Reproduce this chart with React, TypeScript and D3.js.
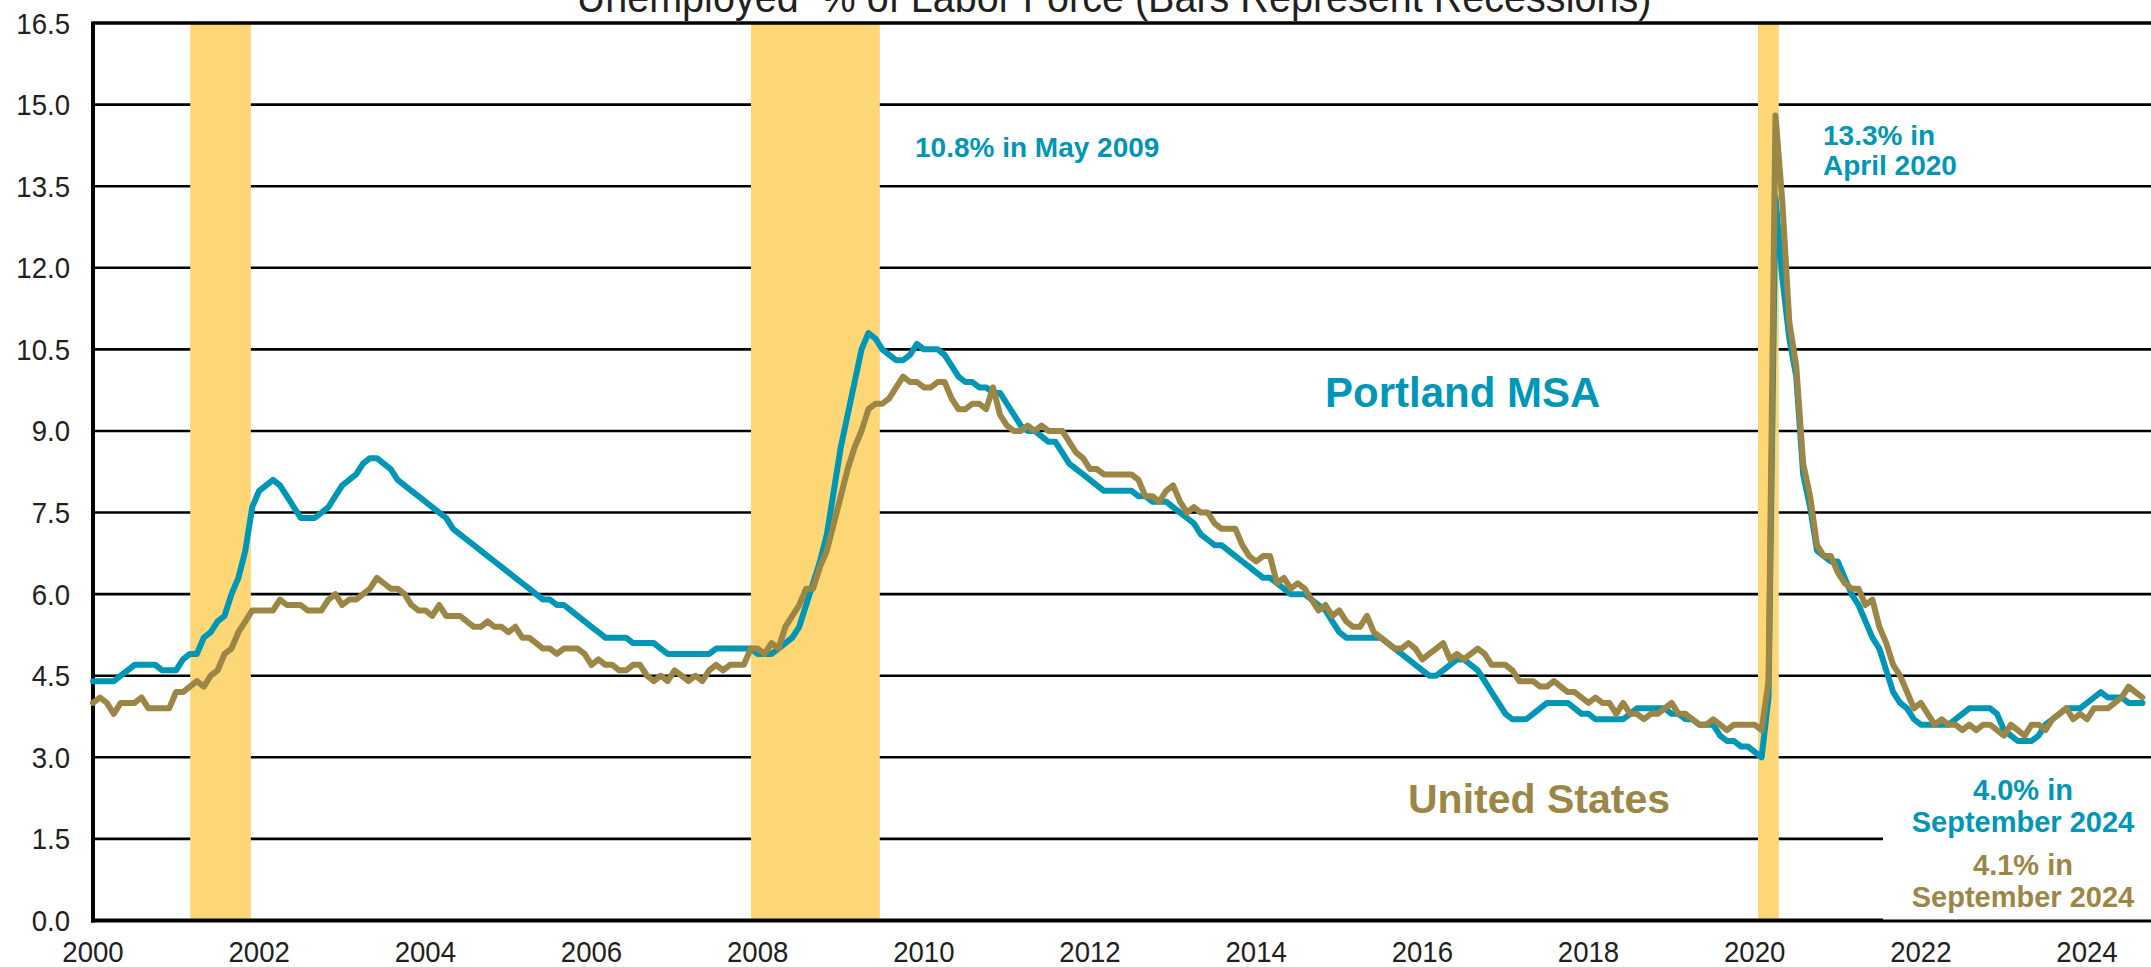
import React from 'react';
import * as d3 from 'd3';

// Monthly unemployment rate (%), Jan 2000 – Sep 2024, seasonally adjusted
const portlandRate: number[] = [
  4.4, 4.4, 4.4, 4.4, 4.5, 4.6, 4.7, 4.7, 4.7, 4.7, 4.6, 4.6,
  4.6, 4.8, 4.9, 4.9, 5.2, 5.3, 5.5, 5.6, 6.0, 6.3, 6.8, 7.6,
  7.9, 8.0, 8.1, 8.0, 7.8, 7.6, 7.4, 7.4, 7.4, 7.5, 7.6, 7.8,
  8.0, 8.1, 8.2, 8.4, 8.5, 8.5, 8.4, 8.3, 8.1, 8.0, 7.9, 7.8,
  7.7, 7.6, 7.5, 7.4, 7.2, 7.1, 7.0, 6.9, 6.8, 6.7, 6.6, 6.5,
  6.4, 6.3, 6.2, 6.1, 6.0, 5.9, 5.9, 5.8, 5.8, 5.7, 5.6, 5.5,
  5.4, 5.3, 5.2, 5.2, 5.2, 5.2, 5.1, 5.1, 5.1, 5.1, 5.0, 4.9,
  4.9, 4.9, 4.9, 4.9, 4.9, 4.9, 5.0, 5.0, 5.0, 5.0, 5.0, 5.0,
  4.9, 4.9, 4.9, 5.0, 5.1, 5.2, 5.4, 5.8, 6.2, 6.6, 7.1, 7.9,
  8.7, 9.3, 9.9, 10.5, 10.8, 10.7, 10.5, 10.4, 10.3, 10.3, 10.4, 10.6,
  10.5, 10.5, 10.5, 10.4, 10.2, 10.0, 9.9, 9.9, 9.8, 9.8, 9.7, 9.7,
  9.5, 9.3, 9.1, 9.0, 9.0, 8.9, 8.8, 8.8, 8.6, 8.4, 8.3, 8.2,
  8.1, 8.0, 7.9, 7.9, 7.9, 7.9, 7.9, 7.8, 7.8, 7.7, 7.7, 7.7,
  7.6, 7.5, 7.4, 7.3, 7.1, 7.0, 6.9, 6.9, 6.8, 6.7, 6.6, 6.5,
  6.4, 6.3, 6.3, 6.2, 6.1, 6.0, 6.0, 6.0, 5.9, 5.8, 5.7, 5.5,
  5.3, 5.2, 5.2, 5.2, 5.2, 5.2, 5.2, 5.1, 5.0, 4.9, 4.8, 4.7,
  4.6, 4.5, 4.5, 4.6, 4.7, 4.8, 4.8, 4.7, 4.6, 4.4, 4.2, 4.0,
  3.8, 3.7, 3.7, 3.7, 3.8, 3.9, 4.0, 4.0, 4.0, 4.0, 3.9, 3.8,
  3.8, 3.7, 3.7, 3.7, 3.7, 3.7, 3.8, 3.9, 3.9, 3.9, 3.9, 3.9,
  3.8, 3.8, 3.7, 3.7, 3.6, 3.6, 3.6, 3.4, 3.3, 3.3, 3.2, 3.2,
  3.1, 3.0, 4.1, 13.3, 11.8, 10.7, 10.0, 8.2, 7.6, 6.8, 6.7, 6.6,
  6.6, 6.3, 6.0, 5.8, 5.5, 5.2, 5.0, 4.6, 4.2, 4.0, 3.9, 3.7,
  3.6, 3.6, 3.6, 3.6, 3.6, 3.7, 3.8, 3.9, 3.9, 3.9, 3.9, 3.8,
  3.5, 3.4, 3.3, 3.3, 3.3, 3.4, 3.6, 3.7, 3.8, 3.9, 3.9, 3.9,
  4.0, 4.1, 4.2, 4.1, 4.1, 4.1, 4.0, 4.0, 4.0,
];

const usRate: number[] = [
  4.0, 4.1, 4.0, 3.8, 4.0, 4.0, 4.0, 4.1, 3.9, 3.9, 3.9, 3.9,
  4.2, 4.2, 4.3, 4.4, 4.3, 4.5, 4.6, 4.9, 5.0, 5.3, 5.5, 5.7,
  5.7, 5.7, 5.7, 5.9, 5.8, 5.8, 5.8, 5.7, 5.7, 5.7, 5.9, 6.0,
  5.8, 5.9, 5.9, 6.0, 6.1, 6.3, 6.2, 6.1, 6.1, 6.0, 5.8, 5.7,
  5.7, 5.6, 5.8, 5.6, 5.6, 5.6, 5.5, 5.4, 5.4, 5.5, 5.4, 5.4,
  5.3, 5.4, 5.2, 5.2, 5.1, 5.0, 5.0, 4.9, 5.0, 5.0, 5.0, 4.9,
  4.7, 4.8, 4.7, 4.7, 4.6, 4.6, 4.7, 4.7, 4.5, 4.4, 4.5, 4.4,
  4.6, 4.5, 4.4, 4.5, 4.4, 4.6, 4.7, 4.6, 4.7, 4.7, 4.7, 5.0,
  5.0, 4.9, 5.1, 5.0, 5.4, 5.6, 5.8, 6.1, 6.1, 6.5, 6.8, 7.3,
  7.8, 8.3, 8.7, 9.0, 9.4, 9.5, 9.5, 9.6, 9.8, 10.0, 9.9, 9.9,
  9.8, 9.8, 9.9, 9.9, 9.6, 9.4, 9.4, 9.5, 9.5, 9.4, 9.8, 9.3,
  9.1, 9.0, 9.0, 9.1, 9.0, 9.1, 9.0, 9.0, 9.0, 8.8, 8.6, 8.5,
  8.3, 8.3, 8.2, 8.2, 8.2, 8.2, 8.2, 8.1, 7.8, 7.8, 7.7, 7.9,
  8.0, 7.7, 7.5, 7.6, 7.5, 7.5, 7.3, 7.2, 7.2, 7.2, 6.9, 6.7,
  6.6, 6.7, 6.7, 6.2, 6.3, 6.1, 6.2, 6.1, 5.9, 5.7, 5.8, 5.6,
  5.7, 5.5, 5.4, 5.4, 5.6, 5.3, 5.2, 5.1, 5.0, 5.0, 5.1, 5.0,
  4.8, 4.9, 5.0, 5.1, 4.8, 4.9, 4.8, 4.9, 5.0, 4.9, 4.7, 4.7,
  4.7, 4.6, 4.4, 4.4, 4.4, 4.3, 4.3, 4.4, 4.3, 4.2, 4.2, 4.1,
  4.0, 4.1, 4.0, 4.0, 3.8, 4.0, 3.8, 3.8, 3.7, 3.8, 3.8, 3.9,
  4.0, 3.8, 3.8, 3.7, 3.6, 3.6, 3.7, 3.6, 3.5, 3.6, 3.6, 3.6,
  3.6, 3.5, 4.4, 14.8, 13.2, 11.0, 10.2, 8.4, 7.8, 6.9, 6.7, 6.7,
  6.4, 6.2, 6.1, 6.1, 5.8, 5.9, 5.4, 5.1, 4.7, 4.5, 4.2, 3.9,
  4.0, 3.8, 3.6, 3.7, 3.6, 3.6, 3.5, 3.6, 3.5, 3.6, 3.6, 3.5,
  3.4, 3.6, 3.5, 3.4, 3.6, 3.6, 3.5, 3.7, 3.8, 3.9, 3.7, 3.8,
  3.7, 3.9, 3.9, 3.9, 4.0, 4.1, 4.3, 4.2, 4.1,
];

// Recession periods (decimal years)
const recessionStarts = [2001.17, 2007.92, 2020.04];
const recessionEnds = [2001.9, 2009.47, 2020.29];

const yTicks = [0, 1.5, 3.0, 4.5, 6.0, 7.5, 9.0, 10.5, 12.0, 13.5, 15.0, 16.5];
const xTicks = [2000, 2002, 2004, 2006, 2008, 2010, 2012, 2014, 2016, 2018, 2020, 2022, 2024];

const W = 2151;
const H = 967;
const FONT = '"Liberation Sans", Arial, Helvetica, sans-serif';
const TEAL = '#0096B6';
const OLIVE = '#9B8646';
const BAR = '#FDD775';
const INK = '#231F20';
const NARROW = 0.92;

export default function App() {
  React.useEffect(() => {
    document.body.style.margin = '0';
    document.body.style.overflow = 'hidden';
  }, []);

  const x = d3.scaleLinear().domain([2000, 2024.77]).range([93, W]);
  const y = d3.scaleLinear().domain([0, 16.5]).range([920.5, 23]);

  const line = d3
    .line<number>()
    .x((_, i) => x(2000 + i / 12))
    .y((d) => y(d));

  const left = x(2000);
  const bottom = y(0);
  const top = y(16.5);

  return (
    <svg
      width={W}
      height={H}
      viewBox={`0 0 ${W} ${H}`}
      style={{ position: 'absolute', left: 0, top: 0, background: '#fff', fontFamily: FONT }}
    >
      <rect x={0} y={0} width={W} height={H} fill="#fff" />

      {/* title (partially cut off at top, as in the source) */}
      <text
        transform={`translate(1114,12) scale(${NARROW},1)`}
        textAnchor="middle"
        fontSize={43}
        fill={INK}
        style={{ whiteSpace: 'pre' }}
        xmlSpace="preserve"
      >
        {'Unemployed  % of Labor Force (Bars Represent Recessions)'}
      </text>

      {/* gridlines */}
      {yTicks.filter((t) => t > 0 && t < 16.5).map((t) => (
        <line key={'g' + t} x1={left} x2={W} y1={y(t)} y2={y(t)} stroke="#000" strokeWidth={2.6} />
      ))}

      {/* recession bars */}
      {recessionStarts.map((s, i) => (
        <rect
          key={'r' + i}
          x={x(s)}
          y={top}
          width={x(recessionEnds[i]) - x(s)}
          height={bottom - top}
          fill={BAR}
        />
      ))}

      {/* top border and axes */}
      <line x1={left} x2={W} y1={top} y2={top} stroke="#000" strokeWidth={3.5} />
      <line x1={left} x2={left} y1={top - 1.5} y2={bottom + 2} stroke="#000" strokeWidth={4} />
      <line x1={left - 2} x2={W} y1={bottom} y2={bottom} stroke="#000" strokeWidth={4} />

      {/* series */}
      <path d={line(portlandRate) || ''} fill="none" stroke={TEAL} strokeWidth={6} strokeLinejoin="round" strokeLinecap="round" />
      <path d={line(usRate) || ''} fill="none" stroke={OLIVE} strokeWidth={6} strokeLinejoin="round" strokeLinecap="round" />

      {/* y tick labels */}
      {yTicks.map((t) => (
        <text
          key={'y' + t}
          transform={`translate(70,${y(t)}) scale(${NARROW},1)`}
          dy="0.35em"
          textAnchor="end"
          fontSize={30}
          fill={INK}
        >
          {t.toFixed(1)}
        </text>
      ))}

      {/* x tick labels */}
      {xTicks.map((t) => (
        <text
          key={'x' + t}
          transform={`translate(${x(t)},962) scale(${NARROW},1)`}
          textAnchor="middle"
          fontSize={30}
          fill={INK}
        >
          {t}
        </text>
      ))}

      {/* annotations */}
      <text x={915} y={157} fontSize={28} fontWeight="bold" fill={TEAL}>10.8% in May 2009</text>
      <text x={1823} y={145} fontSize={28} fontWeight="bold" fill={TEAL}>13.3% in</text>
      <text x={1823} y={175} fontSize={28} fontWeight="bold" fill={TEAL}>April 2020</text>
      <text x={1325} y={407} fontSize={42} fontWeight="bold" fill={TEAL}>Portland MSA</text>
      <text x={1408} y={813} fontSize={41} fontWeight="bold" fill={OLIVE}>United States</text>

      <rect x={1883} y={772} width={W - 1883} height={919.5 - 772} fill="#fff" />
      <g textAnchor="middle" fontSize={29} fontWeight="bold">
        <text x={2023} y={800} fill={TEAL}>4.0% in</text>
        <text x={2023} y={832} fill={TEAL}>September 2024</text>
        <text x={2023} y={875} fill={OLIVE}>4.1% in</text>
        <text x={2023} y={907} fill={OLIVE}>September 2024</text>
      </g>
    </svg>
  );
}
